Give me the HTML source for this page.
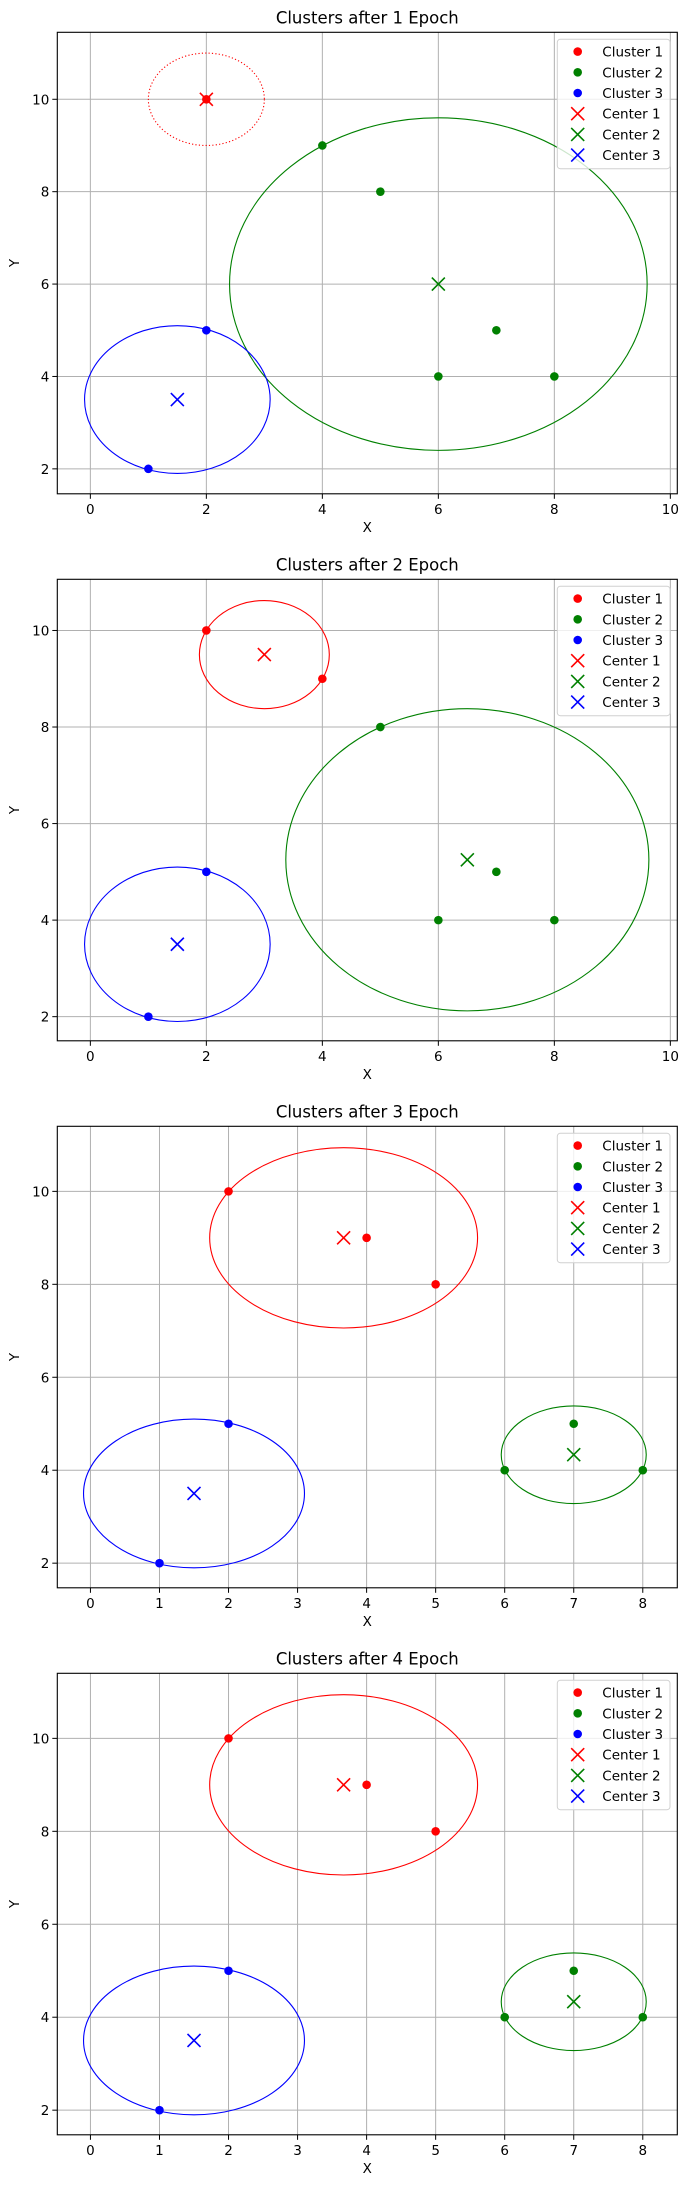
<!DOCTYPE html>
<html><head><meta charset="utf-8"><style>
html,body{margin:0;padding:0;background:#fff;}
svg{display:block;font-family:"DejaVu Sans","Liberation Sans",sans-serif;}
</style></head><body>
<svg id="fig" width="690" height="2188" viewBox="0 0 690 2188" xmlns="http://www.w3.org/2000/svg"></svg>
<script>
// ---- data ----
const epochTitles = ["Clusters after 1 Epoch","Clusters after 2 Epoch","Clusters after 3 Epoch","Clusters after 4 Epoch"];
const xLims = [[-0.57,10.12],[-0.57,10.12],[-0.48,8.5],[-0.48,8.5]];
const yLims = [[1.46,11.45],[1.5,11.06],[1.47,11.4],[1.47,11.4]];
const xTicks = [[0,2,4,6,8,10],[0,2,4,6,8,10],[0,1,2,3,4,5,6,7,8],[0,1,2,3,4,5,6,7,8]];
const yTicks = [2,4,6,8,10];
const colors = ["red","green","blue"];
// points per epoch per cluster
const pts1 = [[[2,10]],[[4,9],[5,8],[7,5],[6,4],[8,4]],[[2,5],[1,2]]];
const pts2 = [[[2,10],[4,9]],[[5,8],[7,5],[6,4],[8,4]],[[2,5],[1,2]]];
const pts3 = [[[2,10],[4,9],[5,8]],[[7,5],[6,4],[8,4]],[[2,5],[1,2]]];
const pts4 = [[[2,10],[4,9],[5,8]],[[7,5],[6,4],[8,4]],[[2,5],[1,2]]];
const centers1 = [[2,10],[6,6],[1.5,3.5]];
const centers2 = [[3,9.5],[6.5,5.25],[1.5,3.5]];
const centers3 = [[3.667,9],[7,4.333],[1.5,3.5]];
const centers4 = [[3.667,9],[7,4.333],[1.5,3.5]];
const radii1 = [1.0,3.6,1.6];
const radii2 = [1.12,3.13,1.6];
const radii3 = [1.94,1.05,1.6];
const radii4 = [1.94,1.05,1.6];
const legendLabels = ["Cluster 1","Cluster 2","Cluster 3","Center 1","Center 2","Center 3"];

const allPts=[pts1,pts2,pts3,pts4], allC=[centers1,centers2,centers3,centers4], allR=[radii1,radii2,radii3,radii4];
const NS="http://www.w3.org/2000/svg";
const svg=document.getElementById('fig');
function mk(tag,attrs,parent){const e=document.createElementNS(NS,tag);for(const k in attrs)e.setAttribute(k,attrs[k]);(parent||svg).appendChild(e);return e;}
const L=57.3,R=677.3,H=461.5,tops=[32.3,579.3,1126.3,1673.3];

function drawX(g,cx,cy,col,s){
  mk('path',{d:`M${cx-s},${cy-s}L${cx+s},${cy+s}M${cx-s},${cy+s}L${cx+s},${cy-s}`,stroke:col,'stroke-width':1.6,fill:'none'},g);
}

for(let p=0;p<4;p++){
  const T=tops[p],B=T+H;
  const [x0,x1]=xLims[p],[y0,y1]=yLims[p];
  const sx=v=>L+(v-x0)/(x1-x0)*(R-L);
  const sy=v=>B-(v-y0)/(y1-y0)*H;
  const g=mk('g',{});
  
  
  const t=mk('text',{x:(L+R)/2,y:T-9,'text-anchor':'middle','font-size':16.5,fill:'#000'},g);t.textContent=epochTitles[p];
  
  // grid
  xTicks[p].forEach(v=>{const x=sx(v);
    const ln=mk('line',{x1:x,x2:x,y1:T,y2:B,stroke:'#b0b0b0','stroke-width':1},g);
    
    mk('line',{x1:x,x2:x,y1:B,y2:B+5,stroke:'#000','stroke-width':1},g);
    const tl=mk('text',{x:x,y:B+20,'text-anchor':'middle','font-size':13.5,fill:'#000'},g);tl.textContent=v;
    
  });
  yTicks.forEach(v=>{const y=sy(v);
    const ln=mk('line',{x1:L,x2:R,y1:y,y2:y,stroke:'#b0b0b0','stroke-width':1},g);
    
    mk('line',{x1:L-5,x2:L,y1:y,y2:y,stroke:'#000','stroke-width':1},g);
    const tl=mk('text',{x:L-8,y:y+5,'text-anchor':'end','font-size':13.5,fill:'#000'},g);tl.textContent=v;
    
  });
  const xl=mk('text',{x:(L+R)/2,y:B+38,'text-anchor':'middle','font-size':13.5,fill:'#000'},g);xl.textContent='X';
  
  const yl=mk('text',{x:19,y:T+H/2,'text-anchor':'middle','font-size':13.5,fill:'#000',transform:`rotate(-90 19 ${T+H/2})`},g);yl.textContent='Y';
  
  // clusters
  for(let c=0;c<3;c++){
    const col=colors[c],cen=allC[p][c],r=allR[p][c];
    const el=mk('ellipse',{cx:sx(cen[0]),cy:sy(cen[1]),rx:Math.abs(sx(cen[0]+r)-sx(cen[0])),ry:Math.abs(sy(cen[1]+r)-sy(cen[1])),fill:'none',stroke:col,'stroke-width':1.1},g);
    if(p===0&&c===0){el.setAttribute('stroke-dasharray','1.2,2.2');}
    
    allPts[p][c].forEach(pt=>{
      const d=mk('circle',{cx:sx(pt[0]),cy:sy(pt[1]),r:4.3,fill:col},g);
      
    });
  }
  for(let c=0;c<3;c++){
    const cen=allC[p][c];
    const cg=mk('g',{},g);
    
    drawX(cg,sx(cen[0]),sy(cen[1]),colors[c],6.5);
  }
  mk('rect',{x:L,y:T,width:R-L,height:H,fill:'none',stroke:'#000','stroke-width':1.1},g);
  // legend
  const lg=mk('g',{},g);
  
  mk('rect',{x:557.3,y:T+7,width:112.7,height:129.4,rx:3,fill:'rgba(255,255,255,0.8)',stroke:'#d0d0d0','stroke-width':1},lg);
  legendLabels.forEach((lab,i)=>{
    const y=T+19.3+i*20.7;
    const e=mk('g',{},lg);
    
    if(i<3) mk('circle',{cx:577.7,cy:y,r:4.3,fill:colors[i]},e);
    else drawX(e,577.7,y,colors[i-3],6.5);
    const tx=mk('text',{x:602.3,y:y+5,'font-size':13.5,fill:'#000'},e);tx.textContent=lab;
  });
}
</script>
</body></html>
